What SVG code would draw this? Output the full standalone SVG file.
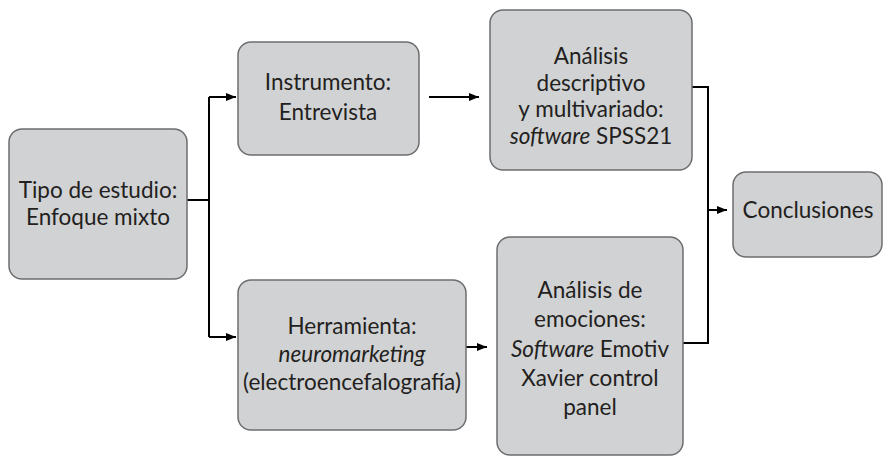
<svg xmlns="http://www.w3.org/2000/svg" width="885" height="460" viewBox="0 0 885 460">
<style>
.box{fill:#d1d2d4;stroke:#6d6e70;stroke-width:1.5}
.t{font-family:Lato,"Open Sans",sans-serif;font-size:22.5px;fill:#231f20;text-anchor:middle}
.i{font-style:italic}
.c{fill:none;stroke:#000;stroke-width:2}
</style>
<defs>
<marker id="ah" markerWidth="10" markerHeight="8" refX="10" refY="4" orient="auto" markerUnits="userSpaceOnUse">
<path d="M0,0 L10,4 L0,8 Z" fill="#000"/>
</marker>
</defs>
<rect width="885" height="460" fill="#fff"/>
<g id="connectors">
<path class="c" d="M187,200 H209"/>
<path class="c" d="M209,97 V337"/>
<path class="c" d="M209,97 H236" marker-end="url(#ah)"/>
<path class="c" d="M209,337 H236" marker-end="url(#ah)"/>
<path class="c" d="M429,97 H479" marker-end="url(#ah)"/>
<path class="c" d="M466,347 H487" marker-end="url(#ah)"/>
<path class="c" d="M692,87 H708 V343 H683"/>
<path class="c" d="M708,210 H727" marker-end="url(#ah)"/>
</g>
<g id="tipo">
<rect class="box" x="9" y="129" width="178" height="150" rx="13"/>
<text class="t" x="98" y="198">Tipo de estudio:</text>
<text class="t" x="98" y="225">Enfoque mixto</text>
</g>
<g id="instrumento">
<rect class="box" x="238" y="42" width="181" height="113" rx="13"/>
<text class="t" x="328" y="90">Instrumento:</text>
<text class="t" x="328" y="120">Entrevista</text>
</g>
<g id="analisis1">
<rect class="box" x="490" y="10" width="202" height="160" rx="13"/>
<text class="t" x="591" y="64">Análisis</text>
<text class="t" x="591" y="91">descriptivo</text>
<text class="t" x="591" y="117">y multivariado:</text>
<text class="t" x="591" y="144"><tspan class="i">software</tspan> SPSS21</text>
</g>
<g id="herramienta">
<rect class="box" x="238" y="280" width="228" height="150" rx="13"/>
<text class="t" x="352" y="334">Herramienta:</text>
<text class="t i" x="352" y="362">neuromarketing</text>
<text class="t" x="352" y="390">(electroencefalografía)</text>
</g>
<g id="analisis2">
<rect class="box" x="497" y="237" width="186" height="218" rx="13"/>
<text class="t" x="590" y="298">Análisis de</text>
<text class="t" x="590" y="327">emociones:</text>
<text class="t" x="590" y="357"><tspan class="i">Software</tspan> Emotiv</text>
<text class="t" x="590" y="386">Xavier control</text>
<text class="t" x="590" y="415">panel</text>
</g>
<g id="conclusiones">
<rect class="box" x="733" y="172" width="149" height="85" rx="13"/>
<text class="t" x="808" y="218">Conclusiones</text>
</g>
</svg>
